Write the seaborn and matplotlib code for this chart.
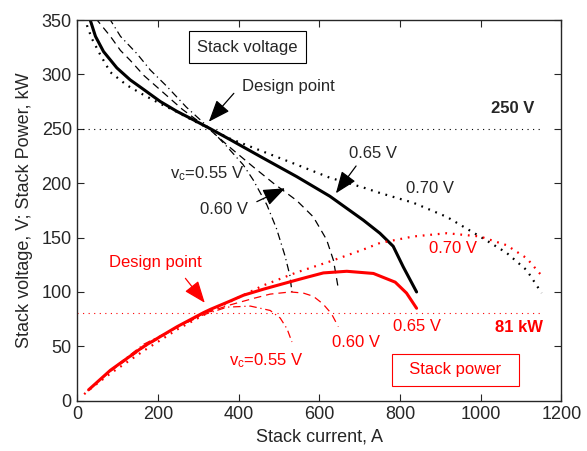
import numpy as np
import pandas as pd
import matplotlib
matplotlib.use("Agg")
import matplotlib.pyplot as plt
import seaborn as sns

# ---- data ----
# Stack voltage curves (black): current A -> voltage V
i_v055 = [78, 82, 107, 148, 181, 222, 270, 329, 370, 411, 436, 470, 494, 515, 527, 532]
v_v055 = [352, 350, 335, 319, 304, 289, 270, 250, 234, 217, 203, 180, 158, 133, 115, 100]
i_v060 = [45, 49, 82, 107, 131, 165, 214, 260, 300, 329, 378, 436, 486, 544, 585, 618, 635, 647]
v_v060 = [352, 350, 335, 322, 313, 299, 283, 268, 257, 249, 233, 215, 200, 184, 169, 148, 129, 103]
i_v065 = [30, 32, 45, 65, 98, 131, 165, 206, 247, 289, 330, 379, 461, 544, 626, 709, 750, 783, 808, 841]
v_v065 = [352, 350, 335, 321, 306, 295, 286, 275, 266, 258, 250, 240, 223, 206, 188, 166, 154, 142, 123, 100]
i_v070 = [20, 24, 36, 57, 82, 123, 165, 206, 250, 290, 329, 378, 461, 544, 626, 709, 750, 833, 916, 998, 1064, 1114, 1151]
v_v070 = [352, 345, 333, 318, 302, 290, 281, 273, 265, 257, 250, 241, 229, 217, 205, 196, 191, 182, 169, 151, 136, 120, 99]

# Stack power curves (red): current A -> power kW
i_p055 = [40, 82, 165, 250, 313, 371, 429, 478, 503, 520, 532]
p_p055 = [14, 28, 52, 68, 79, 86, 87, 83, 76, 66, 54]
i_p060 = [35, 82, 165, 250, 313, 378, 436, 478, 528, 560, 585, 609, 630, 647]
p_p060 = [12, 27, 49, 68, 80, 88, 94, 98, 100, 99, 96, 89, 80, 68]
i_p065 = [28, 82, 165, 247, 313, 330, 378, 412, 461, 495, 544, 569, 610, 668, 734, 788, 816, 841]
p_p065 = [10, 28, 50, 68, 81, 84, 91.5, 97, 102.5, 106, 111, 113.5, 117.5, 119, 117, 109, 99, 85]
i_p070 = [17, 36, 82, 165, 250, 329, 378, 461, 544, 626, 709, 750, 833, 916, 998, 1064, 1114, 1151]
p_p070 = [6, 12, 25, 46, 66, 82, 91, 106, 118, 128, 139, 145, 151, 154, 151, 143, 131, 115]

ref_values = [250, 81]          # design voltage (V) and design power (kW)
ref_colors = ["black", "red"]
ref_xmax = 1152

x_ticks = [0, 200, 400, 600, 800, 1000, 1200]
y_ticks = [0, 50, 100, 150, 200, 250, 300, 350]

# ---- styling ----
sns.set_style("ticks")
plt.rcParams["font.family"] = ["Liberation Sans", "DejaVu Sans"]
plt.rcParams["mathtext.fontset"] = "custom"
plt.rcParams["mathtext.rm"] = "Liberation Sans"
plt.rcParams["mathtext.it"] = "Liberation Sans"

fig = plt.figure(figsize=(5.87, 4.51), dpi=100)
ax = fig.add_axes([0.1317, 0.1115, 0.8247, 0.8441])

styles = {
    "0.55": dict(dashes=(6, 3, 1, 3), lw=0.9),
    "0.60": dict(dashes=(6, 4), lw=0.9),
    "0.65": dict(dashes=None, lw=2.2),
    "0.70": dict(dashes=(0.8, 2.6), lw=1.6),
}

curves = [
    ("0.55", i_v055, v_v055, "black"),
    ("0.60", i_v060, v_v060, "black"),
    ("0.65", i_v065, v_v065, "black"),
    ("0.70", i_v070, v_v070, "black"),
    ("0.55", i_p055, p_p055, "red"),
    ("0.60", i_p060, p_p060, "red"),
    ("0.65", i_p065, p_p065, "red"),
    ("0.70", i_p070, p_p070, "red"),
]

for key, xs, ys, col in curves:
    st = styles[key]
    df = pd.DataFrame({"I": xs, "Y": ys})
    sns.lineplot(data=df, x="I", y="Y", ax=ax, color=col, sort=False,
                 estimator=None, lw=st["lw"])
    line = ax.lines[-1]
    if st["dashes"] is not None:
        line.set_dashes(st["dashes"])
        line.set_dash_capstyle("butt")

for val, col in zip(ref_values, ref_colors):
    ax.hlines(val, 0, ref_xmax, colors=col, linestyles=(0, (1, 4)), lw=0.8)

ax.set_xlim(0, 1200)
ax.set_ylim(0, 350)
ax.set_xticks(x_ticks)
ax.set_yticks(y_ticks)
ax.tick_params(direction="in", top=True, right=True, length=5, width=0.8,
               labelsize=13, pad=4)
for s in ax.spines.values():
    s.set_linewidth(1.0)
ax.set_xlabel("Stack current, A", fontsize=13, labelpad=4)
ax.set_ylabel("Stack voltage, V; Stack Power, kW", fontsize=13, labelpad=6)

fs = 12
arrow_kw = dict(arrowstyle="-|>,head_length=0.9,head_width=0.35", lw=0.9,
                mutation_scale=15, shrinkA=0, shrinkB=0)

# black annotations
ax.text(421, 325, "Stack voltage", fontsize=fs, ha="center", va="center",
        bbox=dict(boxstyle="square,pad=0.5", fc="white", ec="black", lw=0.8))
ax.text(524, 289, "Design point", fontsize=fs, ha="center", va="center")
ax.annotate("", xy=(326, 256.5), xytext=(388, 282.6),
            arrowprops=dict(color="black", **arrow_kw))
ax.text(1134, 268.6, "250 V", fontsize=fs, fontweight="bold", ha="right", va="center")
ax.text(734, 227.5, "0.65 V", fontsize=fs, ha="center", va="center")
ax.annotate("", xy=(641, 190.7), xytext=(691, 215.8),
            arrowprops=dict(color="black", **arrow_kw))
ax.text(874, 195.3, "0.70 V", fontsize=fs, ha="center", va="center")
ax.text(230, 204.5, r"$\mathregular{v_c}$=0.55 V", fontsize=fs, ha="left", va="baseline")
ax.text(304, 171.6, "0.60 V", fontsize=fs, ha="left", va="baseline")
ax.annotate("", xy=(515, 195.3), xytext=(445, 183),
            arrowprops=dict(color="black", **arrow_kw))

# red annotations
ax.text(193, 127, "Design point", fontsize=fs, color="red", ha="center", va="center")
ax.annotate("", xy=(316, 90), xytext=(268, 112.5),
            arrowprops=dict(color="red", **arrow_kw))
ax.text(932, 140, "0.70 V", fontsize=fs, color="red", ha="center", va="center")
ax.text(843, 68, "0.65 V", fontsize=fs, color="red", ha="center", va="center")
ax.text(1155, 67.3, "81 kW", fontsize=fs, color="red", fontweight="bold",
        ha="right", va="center")
ax.text(631, 49.6, "0.60 V", fontsize=fs, color="red", ha="left", va="baseline")
ax.text(375, 32.8, r"$\mathregular{v_c}$=0.55 V", fontsize=fs, color="red",
        ha="left", va="baseline")
ax.text(937, 28.5, "  Stack power  ", fontsize=fs, color="red", ha="center", va="center",
        bbox=dict(boxstyle="square,pad=0.5", fc="white", ec="red", lw=0.8))

fig.savefig("out.png", dpi=100)
